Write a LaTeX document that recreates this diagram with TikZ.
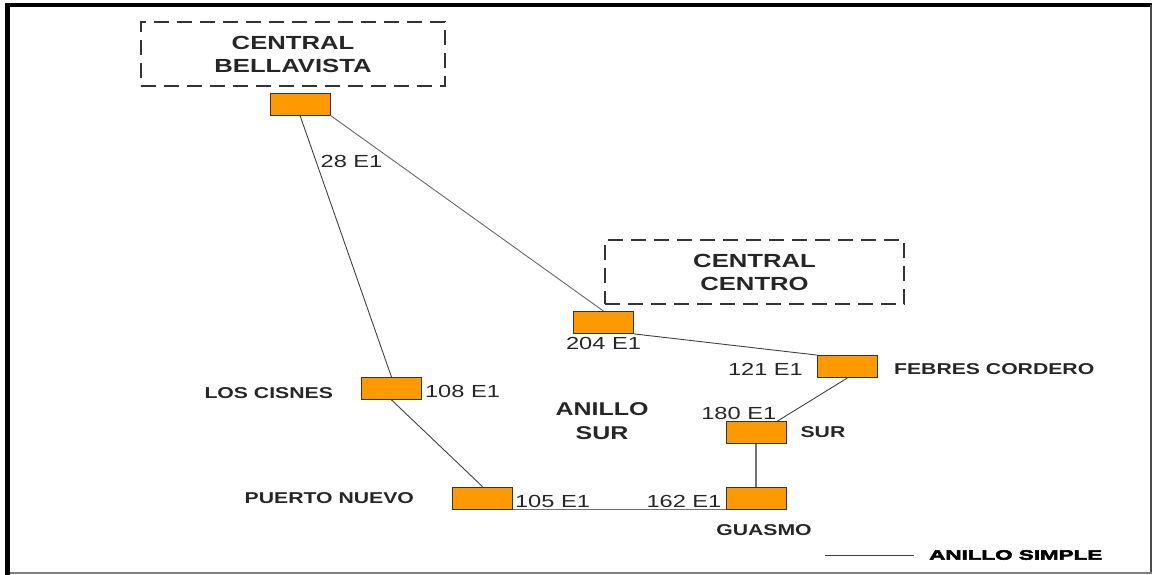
\documentclass[tikz,border=0pt]{standalone}
\usepackage{fontspec}
\setmainfont{Liberation Sans}[FakeStretch=1.35]
\newfontfamily\heavyfont{Liberation Sans Bold}[FakeStretch=1.66,FakeBold=4]
\usetikzlibrary{positioning}
\definecolor{siteorange}{RGB}{255,153,0}
\tikzset{
  site/.style={rectangle,draw=black!80,fill=siteorange,line width=0.8pt,
    minimum width=60pt,minimum height=22pt,inner sep=0pt},
  central/.style={rectangle,draw=black!80,dash pattern=on 15pt off 8pt,line width=1.9pt,
    minimum width=304pt,minimum height=64pt,align=center,text=black!85,
    font=\bfseries\fontsize{19}{23}\selectfont},
  num/.style={inner sep=1pt,text=black!85,font=\fontsize{17.5}{21}\selectfont},
  place/.style={inner sep=1pt,text=black!85,font=\bfseries\fontsize{15.7}{19}\selectfont},
  link/.style={draw=black!75,line width=0.9pt},
}
\begin{document}
\begin{tikzpicture}[x=1pt,y=-1pt]
        \useasboundingbox (0,0) rectangle (1154,575);
        \draw[line width=5pt] (7.5,575) -- (7.5,5);
        \draw[line width=4pt] (5,5) -- (1152,5);
        \draw[black!70,line width=2pt] (1151,5) -- (1151,573);
        \draw[black!50,line width=1.5pt] (10,573) -- (1152,573);

        \node[central] (bellavistabox) at (293,54) {CENTRAL\\BELLAVISTA};
        \node[central,minimum width=299pt] (centrobox) at (754.5,272) {CENTRAL\\CENTRO};

        \node[site] (bellavista) at (300,104) {};
        \node[site] (centro) at (603.5,322.5) {};
        \node[site] (febres) at (847.5,366.5) {};
        \node[site] (cisnes) at (391.5,388.5) {};
        \node[site] (sur) at (756,432.5) {};
        \node[site] (puerto) at (482.5,498) {};
        \node[site] (guasmo) at (756,498) {};

        \draw[link] (bellavista.south) -- (cisnes.north);
        \draw[link,draw=black!60] (bellavista.south east) -- (centro.north);
        \draw[link] (centro.south east) -- (febres.north west);
        \draw[link] (febres.south) -- (sur.28);
        \draw[link,draw=black!55,line width=1.4pt] (sur) -- (guasmo);
        \draw[link] (cisnes.south) -- (puerto.north);
        \draw[link,draw=black!55] (puerto.south east) -- (guasmo.south west);

        \node[num] (lbl28) at (351.5,161) {28 E1};
        \node[num,below=2pt of centro] (lbl204) {204 E1};
        \node[num,left=13pt of febres,yshift=-3pt] (lbl121) {121 E1};
        \node[place,right=15pt of febres,yshift=-3pt] (lblfebres) {FEBRES CORDERO};
        \node[num,right=2pt of cisnes,yshift=-3pt] (lbl108) {108 E1};
        \node[place,left=27pt of cisnes,yshift=-5pt] (lblcisnes) {LOS CISNES};
        \node[place,left=37pt of puerto] (lblpuerto) {PUERTO NUEVO};
        \node[num,anchor=base west] (lbl105) at ([xshift=1pt,yshift=1.5pt]puerto.south east) {105 E1};
        \node[num,anchor=base east] (lbl162) at ([xshift=-3pt,yshift=1.5pt]guasmo.south west) {162 E1};
        \node[num,anchor=south east] (lbl180) at ([xshift=-9pt]sur.north east) {180 E1};
        \node[place,right=13pt of sur] (lblsur) {SUR};
        \node[place,below=14pt of guasmo,xshift=8pt] (lblguasmo) {GUASMO};
        \node[align=center,text=black!85,font=\bfseries\fontsize{18.5}{23.5}\selectfont] (anillo) at (602,421) {ANILLO\\SUR};

        \coordinate (legstart) at (825,555);
        \coordinate (legstop) at (914,555);
        \draw[link] (legstart) -- (legstop);
        \node[anchor=west,inner sep=0pt,font=\heavyfont\fontsize{13.5}{15}\selectfont] (lblsimple) at (929,555) {ANILLO SIMPLE};
\end{tikzpicture}
\end{document}
